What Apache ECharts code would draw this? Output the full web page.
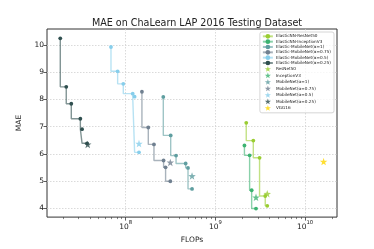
<!DOCTYPE html>
<html>
<head>
<meta charset="utf-8">
<script src="https://cdn.jsdelivr.net/npm/echarts@6/dist/echarts.min.js"></script>
<style>html,body{margin:0;padding:0;background:#fff}#c{width:374px;height:249px}</style>
</head>
<body>
<div id="c"></div>
<script>
// ---- data ----
const resnetFlops   = [2.21e9, 2.65e9, 3.11e9, 3.60e9, 3.79e9];
const resnetMae     = [7.14, 6.49, 5.86, 4.46, 4.10];
const inceptFlops   = [2.11e9, 2.41e9, 2.54e9, 2.84e9];
const inceptMae     = [6.31, 5.95, 4.67, 4.00];
const mb100Flops    = [2.63e8, 3.18e8, 3.65e8, 4.67e8, 4.96e8, 5.50e8];
const mb100Mae      = [8.09, 6.68, 5.94, 5.65, 5.49, 4.72];
const mb075Flops    = [1.52e8, 1.79e8, 2.07e8, 2.65e8, 2.79e8, 3.15e8];
const mb075Mae      = [8.28, 6.97, 6.35, 5.76, 5.51, 5.00];
const mb050Flops    = [6.87e7, 8.15e7, 9.42e7, 1.20e8, 1.26e8, 1.41e8];
const mb050Mae      = [9.92, 9.03, 8.57, 8.21, 8.10, 6.06];
const mb025Flops    = [1.87e7, 2.18e7, 2.48e7, 3.13e7, 3.27e7, 3.72e7];
const mb025Mae      = [10.24, 8.46, 7.84, 7.29, 6.91, 6.39];

const baseNames = ['ResNet50', 'InceptionV3', 'MobileNet(α=1)', 'MobileNet(α=0.75)', 'MobileNet(α=0.5)', 'MobileNet(α=0.25)', 'VGG16'];
const baseFlops = [3.79e9, 2.84e9, 5.50e8, 3.15e8, 1.41e8, 3.78e7, 1.61e10];
const baseMae   = [4.54, 4.41, 5.19, 5.69, 6.38, 6.35, 5.72];

const elasticNames = ['ElasticNN-ResNet50', 'ElasticNN-InceptionV3', 'Elastic-MobileNet(α=1)', 'Elastic-MobileNet(α=0.75)', 'Elastic-MobileNet(α=0.5)', 'Elastic-MobileNet(α=0.25)'];
const elasticFlops = [resnetFlops, inceptFlops, mb100Flops, mb075Flops, mb050Flops, mb025Flops];
const elasticMae   = [resnetMae, inceptMae, mb100Mae, mb075Mae, mb050Mae, mb025Mae];

const xMajorTicks = [1e8, 1e9, 1e10];
const yTicks = [4, 5, 6, 7, 8, 9, 10];

// ---- styling ----
const colors = ['#9acd32', '#3cb371', '#5f9ea0', '#708090', '#87ceeb', '#2f4f4f', '#ffd700'];
const star = 'path://M0,-10L2.35,-3.24L9.51,-3.09L3.8,1.24L5.88,8.09L0,4L-5.88,8.09L-3.8,1.24L-9.51,-3.09L-2.35,-3.24Z';
const X_MIN = 1.33e7, X_MAX = 2.27e10;
const minorTicks = [];
for (let e = 7; e <= 10; e++) for (let k = 2; k <= 9; k++) { const v = k * Math.pow(10, e); if (v > X_MIN && v < X_MAX) minorTicks.push(Math.log10(v)); }

const series = [];
elasticNames.forEach((n, i) => {
  series.push({
    name: n, type: 'line', step: 'start', xAxisIndex: 0,
    data: elasticFlops[i].map((f, j) => [f, elasticMae[i][j]]),
    symbol: 'circle', symbolSize: 3.8, showSymbol: true,
    itemStyle: { color: colors[i] },
    lineStyle: { color: colors[i], width: 1.4, opacity: 0.6 },
    emphasis: { disabled: true }, animation: false, z: 3
  });
});
baseNames.forEach((n, i) => {
  series.push({
    name: n, type: 'scatter', xAxisIndex: 0,
    data: [[baseFlops[i], baseMae[i]]],
    symbol: star, symbolSize: 7.5,
    itemStyle: { color: colors[i] },
    emphasis: { disabled: true }, animation: false, z: 4
  });
});

const font = 'DejaVu Sans';
const chart = echarts.init(document.getElementById('c'), null, { renderer: 'canvas' });
chart.setOption({
  animation: false,
  title: { text: 'MAE on ChaLearn LAP 2016 Testing Dataset', left: 192, textAlign: 'center', top: 13,
    textStyle: { fontFamily: font, fontSize: 9.6, fontWeight: 'normal', color: '#222' } },
  grid: { left: 47, right: 37, top: 29, bottom: 31, show: true, borderColor: '#333', borderWidth: 1, backgroundColor: 'transparent' },
  legend: {
    orient: 'vertical', right: 40, top: 32, itemWidth: 10, itemHeight: 5.8, itemGap: 0.7,
    padding: [2, 3, 2, 2], borderColor: '#ccc', borderWidth: 0.8, borderRadius: 2, backgroundColor: 'rgba(255,255,255,0.8)',
    textStyle: { fontFamily: font, fontSize: 4.2, color: '#222', padding: [0, 0, 0, -2] },
    data: elasticNames.concat(baseNames)
  },
  xAxis: [{
    type: 'log', logBase: 10, min: X_MIN, max: X_MAX,
    name: 'FLOPs', nameLocation: 'middle', nameGap: 18,
    nameTextStyle: { fontFamily: font, fontSize: 7.5, color: '#222' },
    axisLine: { show: false },
    axisTick: { show: true, inside: false, length: 3.5, lineStyle: { color: '#333', width: 0.8 }, customValues: xMajorTicks },
    axisLabel: { customValues: xMajorTicks, color: '#222', margin: 3,
      formatter: v => '{b|10}{s|' + Math.round(Math.log10(v)) + '}',
      rich: {
        b: { fontFamily: font, fontSize: 7.5, color: '#222', lineHeight: 11, verticalAlign: 'bottom' },
        s: { fontFamily: font, fontSize: 5.3, color: '#222', lineHeight: 11, verticalAlign: 'top' }
      } },
    splitLine: { show: true, lineStyle: { color: '#d0d0d0', type: [1.5, 1.5], width: 0.8 } }
  }, {
    type: 'value', min: Math.log10(X_MIN), max: Math.log10(X_MAX), position: 'bottom',
    axisLine: { show: false }, axisLabel: { show: false }, splitLine: { show: false },
    axisTick: { show: true, length: 2, lineStyle: { color: '#333', width: 0.6 }, customValues: minorTicks }
  }],
  yAxis: {
    type: 'value', min: 3.686, max: 10.58,
    name: 'MAE', nameLocation: 'middle', nameGap: 24,
    nameTextStyle: { fontFamily: font, fontSize: 7.5, color: '#222' },
    axisLine: { show: false },
    axisTick: { show: true, length: 3.5, lineStyle: { color: '#333', width: 0.8 }, customValues: yTicks },
    axisLabel: { customValues: yTicks, fontFamily: font, fontSize: 7.5, color: '#222', margin: 3 },
    splitLine: { show: true, lineStyle: { color: '#d0d0d0', type: [1.5, 1.5], width: 0.8 } }
  },
  series: series
});
</script>
</body>
</html>
